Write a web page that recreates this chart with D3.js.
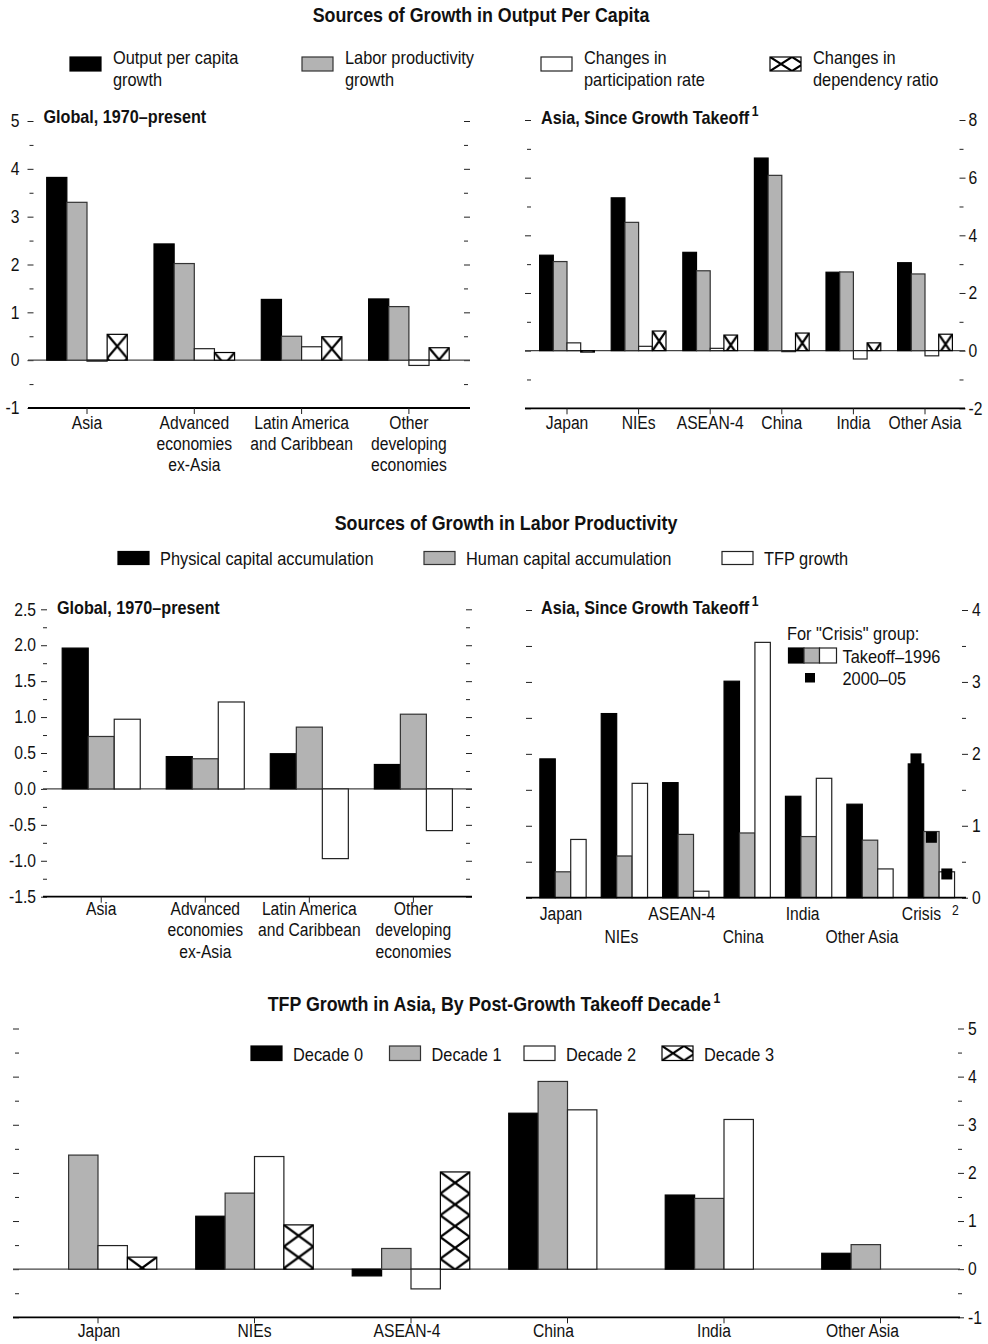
<!DOCTYPE html>
<html><head><meta charset="utf-8">
<script src="https://cdn.jsdelivr.net/npm/d3@7"></script>
<style>
body{margin:0;background:#fff}
svg text{font-family:'Liberation Sans',Arial,sans-serif;fill:#111}
</style>
</head><body>
<svg id="c" width="988" height="1344"></svg>
<script>
// ---------------- DATA ----------------
const globalCats = [["Asia"],["Advanced","economies","ex-Asia"],["Latin America","and Caribbean"],["Other","developing","economies"]];
const asiaCats = ["Japan","NIEs","ASEAN-4","China","India","Other Asia"];

// Panel 1: Sources of growth in output per capita, global
const p1Output   = [3.82, 2.43, 1.27, 1.28];
const p1Labor    = [3.30, 2.02, 0.50, 1.12];
const p1Particip = [-0.02, 0.24, 0.28, -0.11];
const p1Depend   = [0.54, 0.16, 0.49, 0.26];
const p1Ticks = [-1,0,1,2,3,4,5];

// Panel 2: output per capita, Asia since takeoff
const p2Output   = [3.31, 5.30, 3.41, 6.68, 2.72, 3.05];
const p2Labor    = [3.09, 4.45, 2.77, 6.08, 2.73, 2.66];
const p2Particip = [0.27, 0.15, 0.08, -0.03, -0.29, -0.18];
const p2Depend   = [-0.05, 0.68, 0.54, 0.61, 0.27, 0.57];
const p2Ticks = [-2,0,2,4,6,8];

// Panel 3: sources of labor productivity growth, global
const p3Physical = [1.96, 0.45, 0.49, 0.34];
const p3Human    = [0.73, 0.42, 0.86, 1.04];
const p3TFP      = [0.97, 1.21, -0.97, -0.58];
const p3Ticks = [-1.5,-1.0,-0.5,0.0,0.5,1.0,1.5,2.0,2.5];

// Panel 4: labor productivity, Asia since takeoff
const p4Cats = ["Japan","NIEs","ASEAN-4","China","India","Other Asia","Crisis"];
const p4Physical = [1.93, 2.56, 1.60, 3.01, 1.41, 1.30, 1.86];
const p4Human    = [0.36, 0.58, 0.88, 0.90, 0.85, 0.80, 0.92];
const p4TFP      = [0.81, 1.59, 0.09, 3.55, 1.66, 0.40, 0.36];
const crisis2000 = [1.93, 0.84, 0.33]; // physical, human, TFP for 2000-05
const p4Ticks = [0,1,2,3,4];

// Panel 5: TFP growth by post-takeoff decade
const dec0 = [null, 1.10, -0.14, 3.24, 1.54, 0.33];
const dec1 = [2.37, 1.58, 0.43, 3.90, 1.47, 0.51];
const dec2 = [0.49, 2.34, -0.41, 3.31, 3.11, null];
const dec3 = [0.25, 0.92, 2.02, null, null, null];
const p5Ticks = [-1,0,1,2,3,4,5];

// ---------------- DRAWING ----------------
const K = 0.87; // horizontal condensing of the sans font
const svg = d3.select("#c");
const defs = svg.append("defs");
const GRAY = "#b3b3b3";
let patN = 0;
function hatch(x, y, w, h){
  const id = "hp" + (patN++);
  const p = defs.append("pattern").attr("id", id).attr("patternUnits","userSpaceOnUse")
    .attr("x", x).attr("y", y).attr("width", w).attr("height", h);
  p.append("rect").attr("width", w).attr("height", h).attr("fill", "#fff");
  p.append("path").attr("d", `M0,0L${w},${h}M${w},0L0,${h}`)
    .attr("stroke", "#000").attr("stroke-width", 2.2).attr("fill", "none");
  return `url(#${id})`;
}
const STY = {
  black: {fill:"#000", stroke:"#000"},
  gray:  {fill:GRAY, stroke:"#333"},
  white: {fill:"#fff", stroke:"#222"},
  hatch: {fill:null, stroke:"#000"}
};
const fmtInt = d => String(d);
const fmt1 = d => d.toFixed(1);

function condense(sel){
  sel.each(function(){
    const t = d3.select(this);
    const x = +t.attr("x") || 0, y = +t.attr("y") || 0;
    t.attr("x", 0).attr("y", 0).attr("transform", `translate(${x},${y}) scale(${K},1)`);
  });
}
function minorBetween(t, step){
  const out = [];
  for (let i = 0; i < t.length - 1; i++) out.push(t[i] + step);
  return out;
}

function panel(c){
  const g = svg.append("g");
  const y = d3.scaleLinear().domain(c.yDomain).range(c.yRange);
  const n = c.series.length;
  const x = d3.scaleBand().domain(d3.range(c.cats.length)).range(c.xRange)
    .paddingInner(c.pad).paddingOuter(c.pad/2);
  const xi = d3.scaleBand().domain(d3.range(n)).range([0, x.bandwidth()]);
  const bw = xi.bandwidth();

  // left ticks
  const lg = g.append("g").attr("transform", `translate(${c.leftX},0)`);
  lg.call(d3.axisLeft(y).tickValues(c.ticks).tickSize(c.leftMajor || 6).tickPadding(c.leftPad || 6)
      .tickFormat(c.leftLabels ? c.fmt : ""));
  lg.append("g").call(d3.axisLeft(y).tickValues(c.minor).tickSize(c.leftMinor || 4).tickFormat(""));
  // right ticks
  const rg = g.append("g").attr("transform", `translate(${c.rightX},0)`);
  rg.call(d3.axisRight(y).tickValues(c.ticks).tickSize(6).tickPadding(c.rightPad || 4)
      .tickFormat(c.rightLabels ? c.fmt : ""));
  rg.append("g").call(d3.axisRight(y).tickValues(c.minor).tickSize(4).tickFormat(""));
  g.selectAll(".domain").remove();
  g.selectAll(".tick line").attr("stroke", "#222");
  g.selectAll(".tick text").style("font-size", "18px").attr("fill", "#111")
    .attr("font-family", null).call(condense);

  // zero line
  if (c.yDomain[0] < 0) {
    g.append("line").attr("x1", c.lineX[0]).attr("x2", c.lineX[1])
      .attr("y1", y(0)).attr("y2", y(0)).attr("stroke", "#444").attr("stroke-width", 1.2);
  }

  // bars
  c.series.forEach((s, si) => {
    c.cats.forEach((cat, ci) => {
      const v = s.vals[ci];
      if (v === null || v === undefined) return;
      const bx = x(ci) + xi(si);
      const top = y(Math.max(0, v)), bot = y(Math.min(0, v));
      const h = Math.max(bot - top, 1);
      const st = STY[s.style];
      const fill = s.style === "hatch" ? hatch(bx, top, bw, c.hatchH) : st.fill;
      g.append("rect").attr("x", bx).attr("y", top).attr("width", bw).attr("height", h)
        .attr("fill", fill).attr("stroke", st.stroke).attr("stroke-width", 1.2);
    });
  });

  // bottom axis line
  const axY = y(c.yDomain[0]);
  g.append("line").attr("x1", c.lineX[0]).attr("x2", c.lineX[1])
    .attr("y1", axY).attr("y2", axY).attr("stroke", "#000").attr("stroke-width", 1.8);
  if (c.catTicks) {
    const bg = g.append("g").attr("transform", `translate(0,${axY})`);
    bg.call(d3.axisBottom(x).tickSize(6).tickFormat(""));
    bg.select(".domain").remove();
    bg.selectAll(".tick line").attr("stroke", "#222");
  }

  // category labels
  c.cats.forEach((cat, ci) => {
    const lines = Array.isArray(cat) ? cat : [cat];
    const cx = x(ci) + x.bandwidth()/2 + (c.labelDx ? c.labelDx[ci] : 0);
    const baseY = c.labelY + (c.alt && ci % 2 === 1 ? c.alt : 0);
    const t = g.append("text").attr("transform", `translate(${cx},${baseY}) scale(${K},1)`)
      .attr("text-anchor", "middle").style("font-size", "18px");
    lines.forEach((ln, li) => {
      t.append("tspan").attr("x", 0).attr("y", li * 21.3).text(ln);
    });
  });
  return {x, y, xi, g};
}

function text(x, y, s, size, opts = {}){
  const t = svg.append("text").attr("transform", `translate(${x},${y}) scale(${K},1)`)
    .style("font-size", size + "px")
    .attr("text-anchor", opts.anchor || "start").text(s);
  if (opts.bold) t.style("font-weight", "bold");
  return t;
}
function supText(x, y, main, sup, size, anchor){
  const t = svg.append("text").attr("transform", `translate(${x},${y}) scale(${K},1)`)
    .style("font-size", size + "px")
    .style("font-weight", "bold").attr("text-anchor", anchor || "start");
  t.append("tspan").text(main);
  t.append("tspan").attr("dx", 3).attr("dy", -8).style("font-size", "14px").text(sup);
  return t;
}
function swatch(x, y, w, h, style){
  const st = STY[style];
  const fill = style === "hatch" ? hatch(x, y, 22, h) : st.fill;
  svg.append("rect").attr("x", x).attr("y", y).attr("width", w).attr("height", h)
    .attr("fill", fill).attr("stroke", st.stroke).attr("stroke-width", 1.2);
}

// ---------- Section 1 ----------
text(481, 22, "Sources of Growth in Output Per Capita", 20.5, {anchor:"middle", bold:true});
const leg1 = [
  {style:"black", lines:["Output per capita","growth"], x:70},
  {style:"gray", lines:["Labor productivity","growth"], x:302},
  {style:"white", lines:["Changes in","participation rate"], x:541},
  {style:"hatch", lines:["Changes in","dependency ratio"], x:770}
];
leg1.forEach(d => {
  swatch(d.x, 57, 31, 14, d.style);
  d.lines.forEach((ln, i) => text(d.x + 43, 63.5 + i * 22, ln, 18.8));
});

panel({
  cats: globalCats, xRange:[33.35, 462.55], pad:0.249,
  yDomain:[-1,5], yRange:[408,121], ticks:p1Ticks, minor:minorBetween(p1Ticks,0.5),
  fmt: fmtInt, leftLabels:true, rightLabels:false,
  leftX:33.5, leftPad:8, rightX:464, lineX:[28,470],
  series:[{vals:p1Output,style:"black"},{vals:p1Labor,style:"gray"},{vals:p1Particip,style:"white"},{vals:p1Depend,style:"hatch"}],
  hatchH:24, catTicks:true, labelY:428.5
});
text(43.5, 123, "Global, 1970–present", 18.6, {bold:true});

panel({
  cats: asiaCats, xRange:[531.2, 960.8], pad:0.235,
  yDomain:[-2,8], yRange:[408.3,120], ticks:p2Ticks, minor:minorBetween(p2Ticks,1),
  fmt: fmtInt, leftLabels:false, rightLabels:true,
  leftX:531, rightX:959.5, rightPad:3, lineX:[525,965],
  series:[{vals:p2Output,style:"black"},{vals:p2Labor,style:"gray"},{vals:p2Particip,style:"white"},{vals:p2Depend,style:"hatch"}],
  hatchH:20, catTicks:true, labelY:429
});
supText(541, 124, "Asia, Since Growth Takeoff", "1", 18.6);

// ---------- Section 2 ----------
text(506, 530, "Sources of Growth in Labor Productivity", 20.5, {anchor:"middle", bold:true});
const leg2 = [
  {style:"black", label:"Physical capital accumulation", x:118},
  {style:"gray", label:"Human capital accumulation", x:424},
  {style:"white", label:"TFP growth", x:722}
];
leg2.forEach(d => {
  swatch(d.x, 551.5, 31, 13, d.style);
  text(d.x + 42, 564.5, d.label, 18.8);
});

panel({
  cats: globalCats, xRange:[49.2, 465.4], pad:0.25,
  yDomain:[-1.5,2.5], yRange:[896.7,609.3], ticks:p3Ticks, minor:minorBetween(p3Ticks,0.25),
  fmt: fmt1, leftLabels:true, rightLabels:false,
  leftX:47, leftPad:5, rightX:466, lineX:[43,472],
  series:[{vals:p3Physical,style:"black"},{vals:p3Human,style:"gray"},{vals:p3TFP,style:"white"}],
  catTicks:true, labelY:915
});
text(57, 614, "Global, 1970–present", 18.6, {bold:true});

const P4 = panel({
  cats: p4Cats, xRange:[532.3, 962.1], pad:0.246,
  yDomain:[0,4], yRange:[897.7,610], ticks:p4Ticks, minor:minorBetween(p4Ticks,0.5),
  fmt: fmtInt, leftLabels:false, rightLabels:true,
  leftX:532, leftMajor:6, leftMinor:6, rightX:962, rightPad:4, lineX:[526,966],
  series:[{vals:p4Physical,style:"black"},{vals:p4Human,style:"gray"},{vals:p4TFP,style:"white"}],
  catTicks:false, labelY:920, alt:23,
  labelDx:[-2,-3,-4,-4,-6,-8,-10]
});
// Crisis 2000-05 markers
crisis2000.forEach((v, i) => {
  const cx = P4.x(6) + P4.xi(i) + P4.xi.bandwidth()/2;
  P4.g.append("rect").attr("x", cx - 5.5).attr("y", P4.y(v) - 5.5).attr("width", 11).attr("height", 11).attr("fill", "#000");
});
text(952, 915, "2", 14);
supText(541, 614, "Asia, Since Growth Takeoff", "1", 18.6);
text(787, 639.5, "For \"Crisis\" group:", 18.8);
swatch(788.5, 648, 15.5, 15, "black");
swatch(804, 648, 15.5, 15, "gray");
swatch(819.5, 648, 17, 15, "white");
text(842.5, 662.5, "Takeoff–1996", 18.8);
svg.append("rect").attr("x", 805).attr("y", 673).attr("width", 10).attr("height", 9.5).attr("fill", "#000");
text(842.5, 685, "2000–05", 18.8);

// ---------- Section 3 ----------
supText(494, 1011, "TFP Growth in Asia, By Post-Growth Takeoff Decade", "1", 20.5, "middle");
const leg3 = [
  {style:"black", label:"Decade 0", x:251},
  {style:"gray", label:"Decade 1", x:389.5},
  {style:"white", label:"Decade 2", x:524},
  {style:"hatch", label:"Decade 3", x:662}
];
leg3.forEach(d => {
  swatch(d.x, 1046, 31, 14.5, d.style);
  text(d.x + 42, 1060.5, d.label, 18.8);
});

panel({
  cats: asiaCats, xRange:[19.75, 958.75], pad:0.249,
  yDomain:[-1,5], yRange:[1317.3,1028.5], ticks:p5Ticks, minor:minorBetween(p5Ticks,0.5),
  fmt: fmtInt, leftLabels:false, rightLabels:true,
  leftX:19, leftMajor:6, leftMinor:4, rightX:958, rightPad:4, lineX:[13,960],
  series:[{vals:dec0,style:"black"},{vals:dec1,style:"gray"},{vals:dec2,style:"white"},{vals:dec3,style:"hatch"}],
  hatchH:21.7, catTicks:true, labelY:1337,
  labelDx:[1,0,-4,-14,-10,-18]
});
</script>
</body></html>
